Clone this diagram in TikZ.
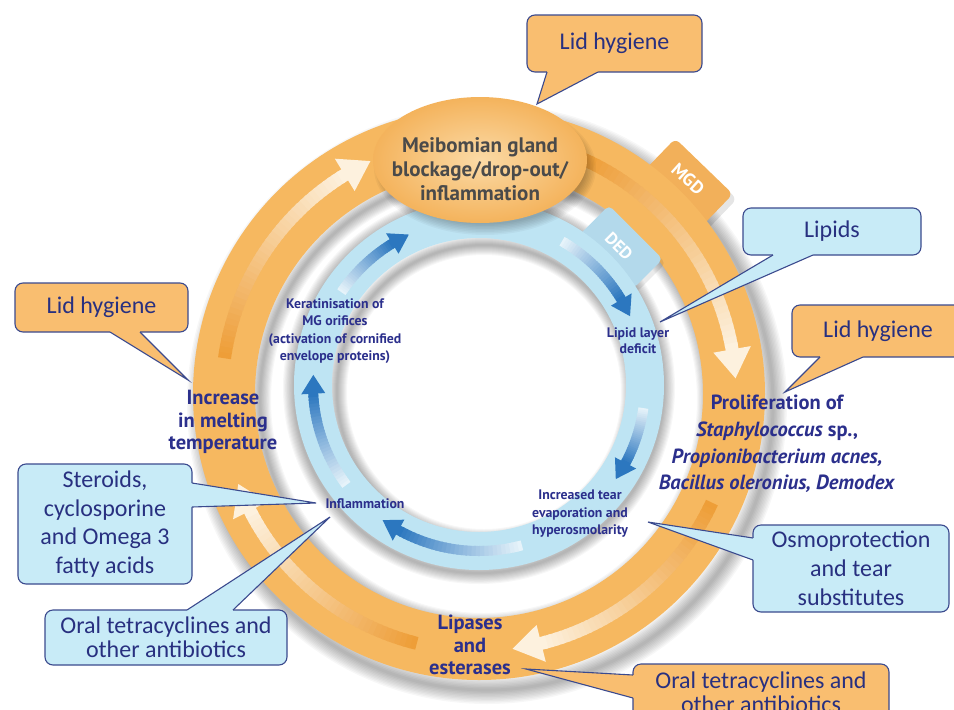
\documentclass[tikz,border=0pt]{standalone}
\usepackage{fontspec}
\setmainfont{Carlito}
\newfontfamily\labf{PT Sans}
\usetikzlibrary{calc}
\definecolor{ringO}{HTML}{F6B860}
\definecolor{calO}{HTML}{F9BE70}
\definecolor{ringB}{HTML}{BEE4F3}
\definecolor{calB}{HTML}{C8EBF7}
\definecolor{navy}{HTML}{2B2F8C}
\definecolor{calText}{HTML}{283080}
\definecolor{edge}{HTML}{3B4A8E}
\definecolor{bdark}{HTML}{2C77BF}
\definecolor{blight}{HTML}{E6F3FA}
\definecolor{odark}{HTML}{EE9E38}
\definecolor{olight}{HTML}{FDF1DE}
\definecolor{ellIn}{HTML}{FBDAA6}
\definecolor{ellOut}{HTML}{F4B35C}
\definecolor{ellText}{HTML}{4A4A4A}
\definecolor{tabO}{HTML}{F2B05A}
\definecolor{tabB}{HTML}{B3D9EB}

\tikzset{
 callO/.style={draw=edge, line width=1.1pt, fill=calO, rounded corners=8pt, text=calText, align=center, inner sep=0pt},
 callB/.style={callO, fill=calB},
 cfont/.style={font=\fontsize{24}{#1}\selectfont},
 ringlab/.style={text=navy, font=\labf\bfseries\fontsize{20.5}{22.5}\selectfont, align=center, inner sep=0pt},
 innerlab/.style={text=navy, font=\labf\bfseries\fontsize{13.8}{17.5}\selectfont, align=center, inner sep=0pt},
 tablab/.style={text=white, font=\labf\bfseries\fontsize{18}{18}\selectfont, inner sep=0pt},
 ptr/.style={draw=edge, line width=1.1pt, line join=miter},
}

% soft shadow made of stacked translucent strokes
\newcommand\softring[4]{%
  \foreach \k in {1,...,10}{%
    \pgfmathsetmacro\lw{#4*\k/10}%
    \draw[black, opacity=0.03, line width=\lw pt] (#1,#2) circle[radius=#3];
  }}

% blue gradient arrow on the DED ring (clockwise)
\newcommand\barrow[3]{%
 \foreach \i in {0,...,29}{%
   \pgfmathsetmacro\sa{#1+(#2-#1)*\i/30}%
   \pgfmathsetmacro\sb{#1+(#2-#1)*(\i+1.4)/30}%
   \pgfmathtruncatemacro\pc{100*\i/29}%
   \draw[line width=10pt, bdark!\pc!blight] plot[domain=\sa:\sb, samples=5] ({479+166*cos(\x)},{385-166*sin(\x)});
 }%
 \fill[bdark] ({479+178*cos(#2)},{385-178*sin(#2)}) -- ({479+166*cos(#3)},{385-166*sin(#3)}) -- ({479+154*cos(#2)},{385-154*sin(#2)}) -- cycle;
}
% orange gradient arrow on the MGD ring (clockwise)
\newcommand\oarrow[3]{%
 \foreach \i in {0,...,39}{%
   \pgfmathsetmacro\sa{#1+(#2-#1)*\i/40}%
   \pgfmathsetmacro\sb{#1+(#2-#1)*(\i+1.4)/40}%
   \pgfmathtruncatemacro\pc{100*\i/39}%
   \draw[line width=13pt, olight!\pc!odark] plot[domain=\sa:\sb, samples=5] ({479+257*cos(\x)},{394-257*sin(\x)});
 }%
 \fill[olight] ({479+276*cos(#2)},{394-276*sin(#2)}) -- ({479+257*cos(#3)},{394-257*sin(#3)}) -- ({479+238*cos(#2)},{394-238*sin(#2)}) -- cycle;
}
% callout pointer: fill colour, base1, base2, tip, inward shift
\newcommand\callptr[6]{%
  \fill[#1] ($(#2)+(#5,#6)$) -- (#2) -- (#4) -- (#3) -- ($(#3)+(#5,#6)$) -- cycle;
  \draw[ptr] (#2) -- (#4) -- (#3);
}

\begin{document}
\begin{tikzpicture}[x=1pt,y=-1pt]
\useasboundingbox (0,0) rectangle (954,710);
\clip (0,0) rectangle (954,710);
\fill[white] (0,0) rectangle (954,710);

% ---- shadows under the MGD ring
\softring{487}{404}{286}{28}
\softring{484}{400}{224}{22}

% ---- MGD tab (behind ring)
\fill[black, opacity=0.10, rounded corners=6pt, rotate around={-44:(690,190)}] (650,164) rectangle (730,216);
\fill[tabO, rounded corners=6pt, rotate around={-44:(686,185)}] (646,159) rectangle (726,211);

% ---- MGD ring
\fill[ringO, even odd rule] (479,394) circle[radius=286] (479,394) circle[radius=224];

% ---- DED tab and ring
\softring{479}{388}{185}{22}
\fill[black, opacity=0.08, rounded corners=5pt, rotate around={-45:(624,251)}] (586,230) rectangle (662,272);
\fill[tabB, rounded corners=5pt, rotate around={-45:(621,247)}] (583,226) rectangle (659,268);
\softring{484}{392}{147}{20}
\fill[ringB, even odd rule] (479,385) circle[radius=185] (479,385) circle[radius=147];

\node[tablab, rotate=-42] (mgdtxt) at (688,179) {MGD};
\node[tablab, font=\labf\bfseries\fontsize{17}{17}\selectfont, rotate=-45] (dedtxt) at (619,246) {DED};

% ---- blue arrows (DED cycle)
\barrow{60}{31}{24.5}
\barrow{-8}{-28}{-34.5}
\barrow{-75}{-119}{-125.5}
\barrow{-143}{-177}{-183.5}
\barrow{146}{121.5}{115}

% ---- orange arrows (MGD cycle)
\oarrow{172}{121.5}{115}
\oarrow{66}{10}{3.5}
\oarrow{-25}{-76}{-82.5}
\oarrow{-104}{-153}{-159.5}

% ---- central ellipse
\foreach \k in {0,...,7}{\fill[black, opacity=0.035] (485,168) ellipse[x radius={111-\k*1.5}, y radius={67-\k*1.5}];}
\shade[inner color=ellIn, outer color=ellOut] (480,160) ellipse[x radius=107, y radius=63];
\node[ringlab, text=ellText, font=\labf\bfseries\fontsize{21}{24}\selectfont] (mgb) at (480,169) {Meibomian gland\\blockage/drop-out/\\inflammation};

% ---- ring labels
\node[ringlab] (melt) at (223,422) {Increase\\in melting\\temperature};
\node[ringlab, font=\labf\bfseries\fontsize{20.5}{26.7}\selectfont] (prolif) at (777,444) {Proliferation of\\\textit{Staphylococcus} sp.,\\\textit{Propionibacterium acnes,}\\\textit{Bacillus oleronius, Demodex}};
\node[ringlab] (lipases) at (470,645) {Lipases\\and\\esterases};
\node[innerlab] (kerat) at (335,331) {Keratinisation of\\MG orifices\\(activation of cornified\\envelope proteins)};
\node[innerlab, font=\labf\bfseries\fontsize{13.8}{16}\selectfont] (lld) at (638,341) {Lipid layer\\deficit};
\node[innerlab] (tear) at (580,514) {Increased tear\\evaporation and\\hyperosmolarity};
\node[innerlab] (infl) at (365,504) {Inflammation};

% ---- callouts
\node[callO, cfont=28, minimum width=175, minimum height=57] (lidTop) at (614.5,43.5) {Lid hygiene};
\coordinate (lidTopA) at (547,72); \coordinate (lidTopB) at (598,72); \coordinate (lidTopTip) at (537,104);
\callptr{calO}{lidTopA}{lidTopB}{lidTopTip}{0}{-3}

\node[callO, cfont=28, minimum width=173, minimum height=49] (lidLeft) at (101.5,307.5) {Lid hygiene};
\coordinate (lidLeftA) at (110,332); \coordinate (lidLeftB) at (140,332); \coordinate (lidLeftTip) at (188,380);
\callptr{calO}{lidLeftA}{lidLeftB}{lidLeftTip}{0}{-3}

\node[callO, cfont=28, minimum width=172, minimum height=52] (lidRight) at (878,331) {Lid hygiene};
\coordinate (lidRightA) at (820,357); \coordinate (lidRightB) at (863,357); \coordinate (lidRightTip) at (785,392);
\callptr{calO}{lidRightA}{lidRightB}{lidRightTip}{0}{-3}

\node[callB, cfont=28, minimum width=178, minimum height=47] (lipids) at (832,231.5) {Lipids};
\coordinate (lipidsA) at (773,255); \coordinate (lipidsB) at (813,255); \coordinate (lipidsTip) at (660,322);
\callptr{calB}{lipidsA}{lipidsB}{lipidsTip}{0}{-3}

\node[callB, cfont=29, minimum width=196, minimum height=87] (osmo) at (851,568.5) {Osmoprotection\\and tear\\substitutes};
\coordinate (osmoA) at (753,538); \coordinate (osmoB) at (753,560); \coordinate (osmoTip) at (648,522);
\callptr{calB}{osmoA}{osmoB}{osmoTip}{3}{0}

\node[callB, cfont=28.5, minimum width=174, minimum height=120] (steroids) at (105,524) {Steroids,\\cyclosporine\\and Omega 3\\fatty acids};
\coordinate (steroidsA) at (192,483); \coordinate (steroidsB) at (192,507); \coordinate (steroidsTip) at (316,503);
\callptr{calB}{steroidsA}{steroidsB}{steroidsTip}{-3}{0}

\node[callB, cfont=24, minimum width=242, minimum height=55] (oralL) at (166,637.5) {Oral tetracyclines and\\other antibiotics};
\coordinate (oralLA) at (187,610); \coordinate (oralLB) at (233,610); \coordinate (oralLTip) at (330,517);
\callptr{calB}{oralLA}{oralLB}{oralLTip}{0}{3}

\node[callO, cfont=24, minimum width=256, minimum height=60] (oralR) at (761,694) {};
\node[text=calText, align=center, inner sep=0pt, cfont=24] (oralRtxt) at (761,692) {Oral tetracyclines and\\other antibiotics};
\coordinate (oralRA) at (633,675); \coordinate (oralRB) at (633,698); \coordinate (oralRTip) at (526,669);
\callptr{calO}{oralRA}{oralRB}{oralRTip}{3}{0}
\end{tikzpicture}
\end{document}
